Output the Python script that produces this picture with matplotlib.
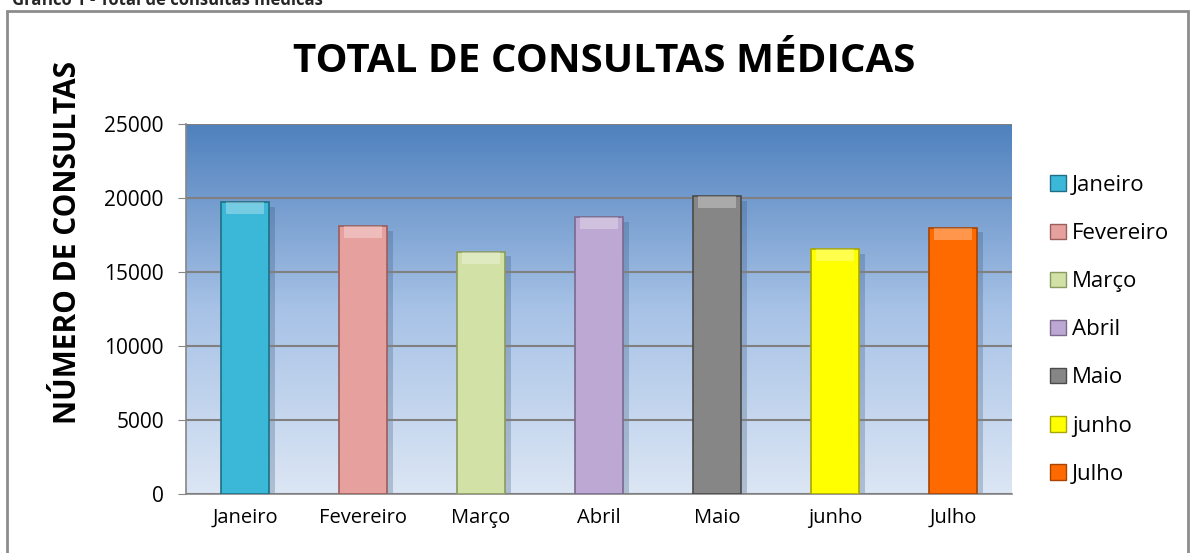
import matplotlib
matplotlib.use("Agg")
import matplotlib.pyplot as plt
import numpy as np
from matplotlib.patches import Rectangle, Patch
from matplotlib.colors import LinearSegmentedColormap

meses = ["Janeiro", "Fevereiro", "Março", "Abril", "Maio", "junho", "Julho"]
consultas = [19700, 18100, 16350, 18700, 20130, 16550, 17980]
cores = ["#3bb8d8", "#e6a09e", "#d2e2a6", "#bca8d2", "#868686", "#ffff00", "#ff6a00"]
bordas = ["#1f6f84", "#9a5e5c", "#8a9a60", "#7a6a8e", "#4a4a4a", "#a8a800", "#a84400"]
yticks = [0, 5000, 10000, 15000, 20000, 25000]

plt.rcParams['font.family'] = ['Open Sans', 'DejaVu Sans']

fig = plt.figure(figsize=(11.9, 5.53), dpi=100)
ax = fig.add_axes([186/1190, 1 - 494/553, 826/1190, 370/553])

# fundo em degrade
grad = np.linspace(0, 1, 256).reshape(-1, 1)
cmap = LinearSegmentedColormap.from_list("bg", ["#dce6f4", "#a7c2e6", "#4f81bd"])
ax.imshow(grad, aspect='auto', cmap=cmap, extent=[-0.5, 6.5, 0, 25000],
          origin='lower', zorder=0)

x = np.arange(len(meses))
w = 0.4
for i, v in enumerate(consultas):
    # sombra
    ax.bar(x[i] + 0.05, v - 300, width=w, bottom=0, color="#2a4a70", alpha=0.25,
           zorder=2, linewidth=0)
    ax.bar(x[i], v, width=w, color=cores[i], edgecolor=bordas[i], linewidth=1.2, zorder=3)
    # brilho no topo
    ax.bar(x[i], 800, bottom=v - 800, width=w * 0.8, color="white", alpha=0.3,
           linewidth=0, zorder=4)

ax.set_xlim(-0.5, 6.5)
ax.set_ylim(0, 25000)
ax.set_yticks(yticks)
ax.set_yticklabels([str(t) for t in yticks], fontsize=15)
ax.set_xticks(x)
ax.set_xticklabels(meses, fontsize=14.5)
ax.tick_params(axis='x', length=0, pad=10)
ax.tick_params(axis='y', length=6, color='#868686', pad=10)
ax.grid(axis='y', color='#808080', linewidth=1.5, zorder=1)
ax.set_axisbelow(False)
for s in ['top', 'right']:
    ax.spines[s].set_visible(False)
for s in ['left', 'bottom']:
    ax.spines[s].set_color('#868686')
    ax.spines[s].set_linewidth(1.2)

ax.set_ylabel("NÚMERO DE CONSULTAS", fontsize=21.5, fontweight='bold')
ax.yaxis.set_label_coords(-0.125, 0.681)

fig.text(604/1190, 1 - 62/553, "TOTAL DE CONSULTAS MÉDICAS", fontsize=29,
         fontweight='bold', ha='center', va='center')

handles = [Patch(facecolor=c, edgecolor=b) for c, b in zip(cores, bordas)]
fig.legend(handles, meses, loc='upper left', bbox_to_anchor=(1050/1190, 1 - 175/553),
           frameon=False, fontsize=16, labelspacing=1.22, handlelength=0.7,
           handleheight=0.7, handletextpad=0.3, borderaxespad=0, borderpad=0)

# moldura e cabecalho
fig.patches.append(Rectangle((7/1190, -0.01), 1181/1190, 1 - 11/553 + 0.01,
                             transform=fig.transFigure, fill=False,
                             edgecolor='#8c8c8c', linewidth=2))
fig.text(12/1190, 1.0, "Gráfico 1 - Total de consultas médicas", fontsize=12,
         fontweight='bold', ha='left', va='center', color='#262626')

plt.savefig("out.png", dpi=100)
